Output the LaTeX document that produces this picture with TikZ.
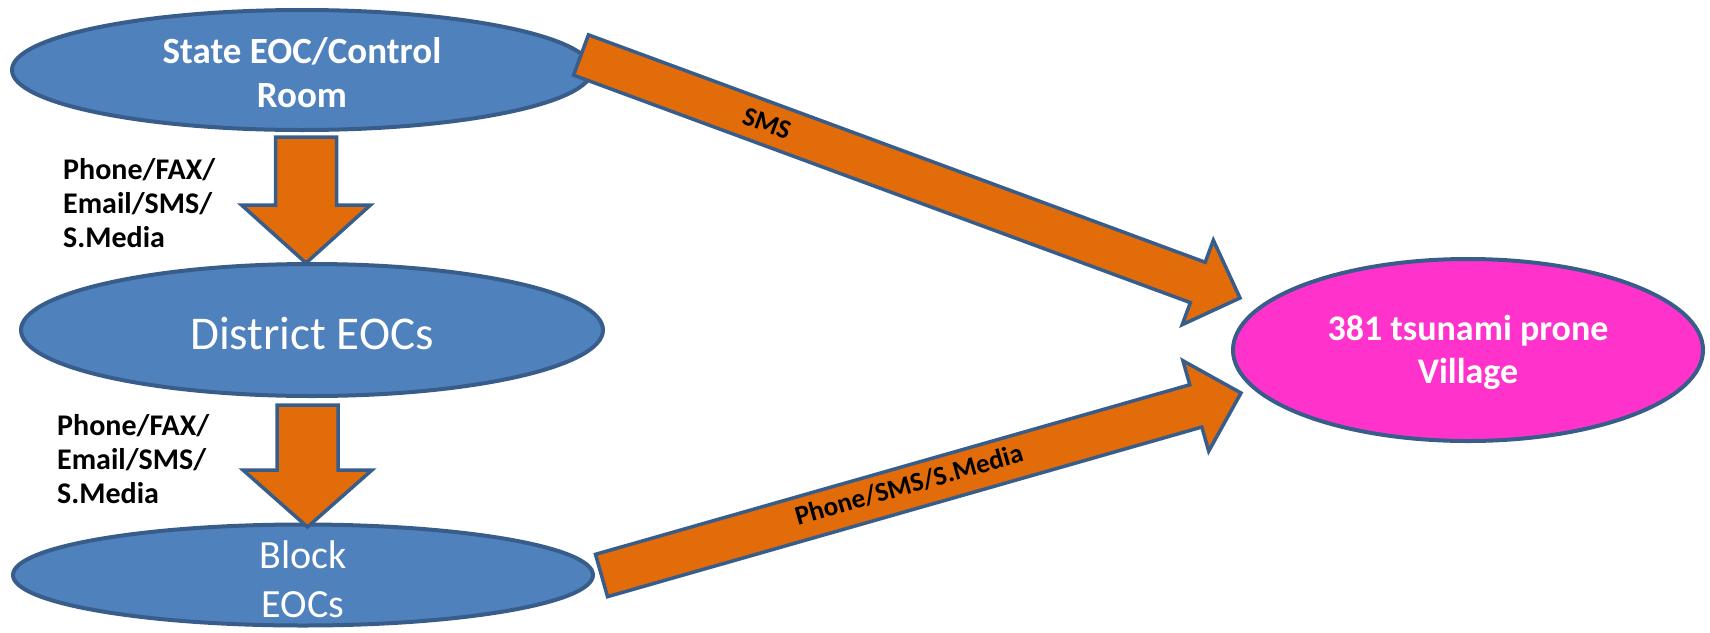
\documentclass[tikz,border=0pt]{standalone}
\usepackage{fontspec}
\setmainfont{Carlito}
\usetikzlibrary{shapes.geometric,calc}
\definecolor{eblue}{HTML}{4F81BD}
\definecolor{edgeblue}{HTML}{385D8A}
\definecolor{aorange}{HTML}{E36C0A}
\definecolor{vmag}{HTML}{FF33CC}
% #1 tail, #2 tip, #3 half shaft width, #4 half head width, #5 head length
\newcommand\fatarrow[5]{%
  \coordinate (fahead) at ($(#2)!#5!(#1)$);
  \draw[barrow] ($(#1)!#3!90:(#2)$) -- ($(fahead)!#3!90:(#2)$) -- ($(fahead)!#4!90:(#2)$) -- (#2)
    -- ($(fahead)!#4!-90:(#2)$) -- ($(fahead)!#3!-90:(#2)$) -- ($(#1)!#3!-90:(#2)$) -- cycle;
}
\tikzset{
  ell/.style={ellipse, draw=edgeblue, line width=4pt, fill=eblue, inner sep=0pt},
  barrow/.style={draw=edgeblue, line width=3.5pt, fill=aorange, line join=miter},
  wtxt/.style={text=white, align=center, inner sep=0pt},
  ltxt/.style={font=\fontsize{30}{34}\selectfont\bfseries, align=left, inner sep=0pt, anchor=north west},
  atxt/.style={font=\fontsize{27}{32}\selectfont\bfseries, inner sep=0pt}
}
\begin{document}
\begin{tikzpicture}[x=1pt,y=-1pt]
\useasboundingbox (0,0) rectangle (1710,632);
% ellipses
\node[ell, minimum width=580pt, minimum height=120pt] (state) at (302,70) {};
\node[ell, minimum width=582pt, minimum height=132pt] (district) at (312,330) {};
\node[ell, minimum width=580pt, minimum height=101pt] (block) at (303,575) {};
\node[ell, fill=vmag, minimum width=470pt, minimum height=182pt] (village) at (1468,350) {};
% ellipse texts
\node[wtxt, font=\fontsize{37}{44}\selectfont\bfseries] (statetxt) at (302,73) {State EOC/Control\\Room};
\node[wtxt, font=\fontsize{47}{54}\selectfont] (districttxt) at (312,333) {District EOCs};
\node[wtxt, font=\fontsize{40}{49}\selectfont] (blocktxt) at (303,579) {Block\\EOCs};
\node[wtxt, font=\fontsize{36}{43}\selectfont\bfseries] (villagetxt) at (1468,352) {381 tsunami prone\\Village};
% arrow end points
\coordinate (d1s) at (306,137);
\coordinate (d1e) at (306,263);
\coordinate (d2s) at (307.5,405);
\coordinate (d2e) at (307.5,527);
\coordinate (smsS) at (581,55);
\coordinate (smsE) at (1240,298);
\coordinate (phS) at (601.5,575.5);
\coordinate (phE) at (1241,393);
% block arrows
\fatarrow{d1s}{d1e}{30.5pt}{64.5pt}{58pt}
\fatarrow{d2s}{d2e}{30.5pt}{64.5pt}{57pt}
\fatarrow{smsS}{smsE}{21.5pt}{45pt}{45pt}
\fatarrow{phS}{phE}{22pt}{47pt}{47pt}
% arrow labels
\path (smsS) -- (smsE) node[pos=0.282, sloped, atxt] (smslbl) {SMS};
\path (phS) -- (phE) node[pos=0.482, sloped, atxt, yshift=3pt] (phlbl) {Phone/SMS/S.Media};
% side labels
\node[ltxt] (lab1) at (63,158) {Phone/FAX/\\Email/SMS/\\S.Media};
\node[ltxt] (lab2) at (57,414) {Phone/FAX/\\Email/SMS/\\S.Media};
\end{tikzpicture}
\end{document}
